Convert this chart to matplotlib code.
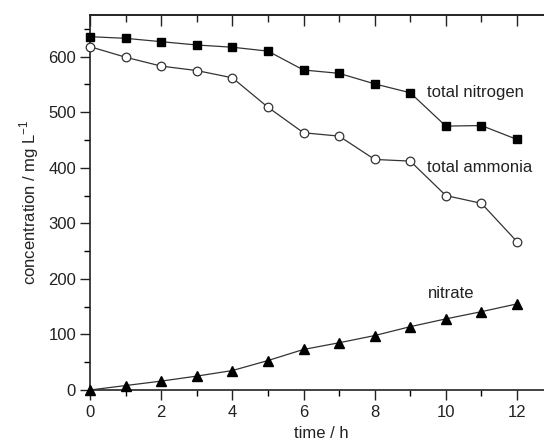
import matplotlib
matplotlib.use("Agg")
import matplotlib.pyplot as plt
from matplotlib.ticker import MultipleLocator

plt.rcParams['font.family'] = ['Liberation Sans', 'DejaVu Sans']

time_h = [0, 1, 2, 3, 4, 5, 6, 7, 8, 9, 10, 11, 12]
total_nitrogen = [636, 633, 627, 621, 617, 610, 576, 570, 551, 535, 475, 476, 451]
total_ammonia = [618, 599, 583, 575, 562, 509, 463, 457, 415, 412, 350, 336, 267]
nitrate = [0, 8, 16, 25, 35, 53, 73, 85, 98, 114, 128, 141, 155]

fig = plt.figure(figsize=(5.44, 4.43), dpi=100)
W, H = 544, 443
ax = fig.add_axes([90 / W, (H - 390) / H, 462.6 / W, 375 / H])

lc = '#333333'
tc = '#222222'
ax.plot(time_h, total_nitrogen, '-', color=lc, lw=0.9, marker='s', ms=5.8,
        mfc='black', mec='black', clip_on=False, zorder=3)
ax.plot(time_h, total_ammonia, '-', color=lc, lw=0.9, marker='o', ms=6.2,
        mfc='white', mec='#333333', mew=0.9, clip_on=False, zorder=3)
ax.plot(time_h, nitrate, '-', color=lc, lw=0.9, marker='^', ms=7,
        mfc='black', mec='black', clip_on=False, zorder=3)

ax.set_xlim(0, 13)
ax.set_ylim(0, 675)
ax.xaxis.set_major_locator(MultipleLocator(2))
ax.xaxis.set_minor_locator(MultipleLocator(1))
ax.yaxis.set_major_locator(MultipleLocator(100))
ax.yaxis.set_minor_locator(MultipleLocator(50))

ax.tick_params(axis='y', which='both', left=True, right=False, direction='out')
ax.tick_params(axis='y', which='major', length=7, width=1, pad=3)
ax.tick_params(axis='y', which='minor', length=4, width=1)
ax.tick_params(axis='x', which='major', bottom=True, top=False, direction='out', length=7, width=1, pad=4)
ax.tick_params(axis='x', which='minor', bottom=True, top=False, direction='out', length=4, width=1)
ax.tick_params(labelsize=12, colors=tc)

# top inward ticks
ax2 = ax.secondary_xaxis('top')
ax2.xaxis.set_major_locator(MultipleLocator(2))
ax2.xaxis.set_minor_locator(MultipleLocator(1))
ax2.tick_params(axis='x', which='major', direction='in', length=8, width=1, labeltop=False, colors=tc)
ax2.tick_params(axis='x', which='minor', direction='in', length=5, width=1, colors=tc)
ax2.spines['top'].set_linewidth(1.2)
ax2.spines['top'].set_color(tc)

for s in ax.spines.values():
    s.set_linewidth(1.2)
    s.set_color(tc)

ax.set_xlabel('time / h', fontsize=12, color=tc, labelpad=4)
ax.set_ylabel('concentration / mg L$^{\\mathregular{-1}}$', fontsize=12, color=tc, labelpad=5)

ax.text(9.47, 535, 'total nitrogen', fontsize=12, va='center', ha='left', color=tc)
ax.text(9.47, 400, 'total ammonia', fontsize=12, va='center', ha='left', color=tc)
ax.text(9.5, 174, 'nitrate', fontsize=12, va='center', ha='left', color=tc)

fig.savefig('out.png', dpi=100)
